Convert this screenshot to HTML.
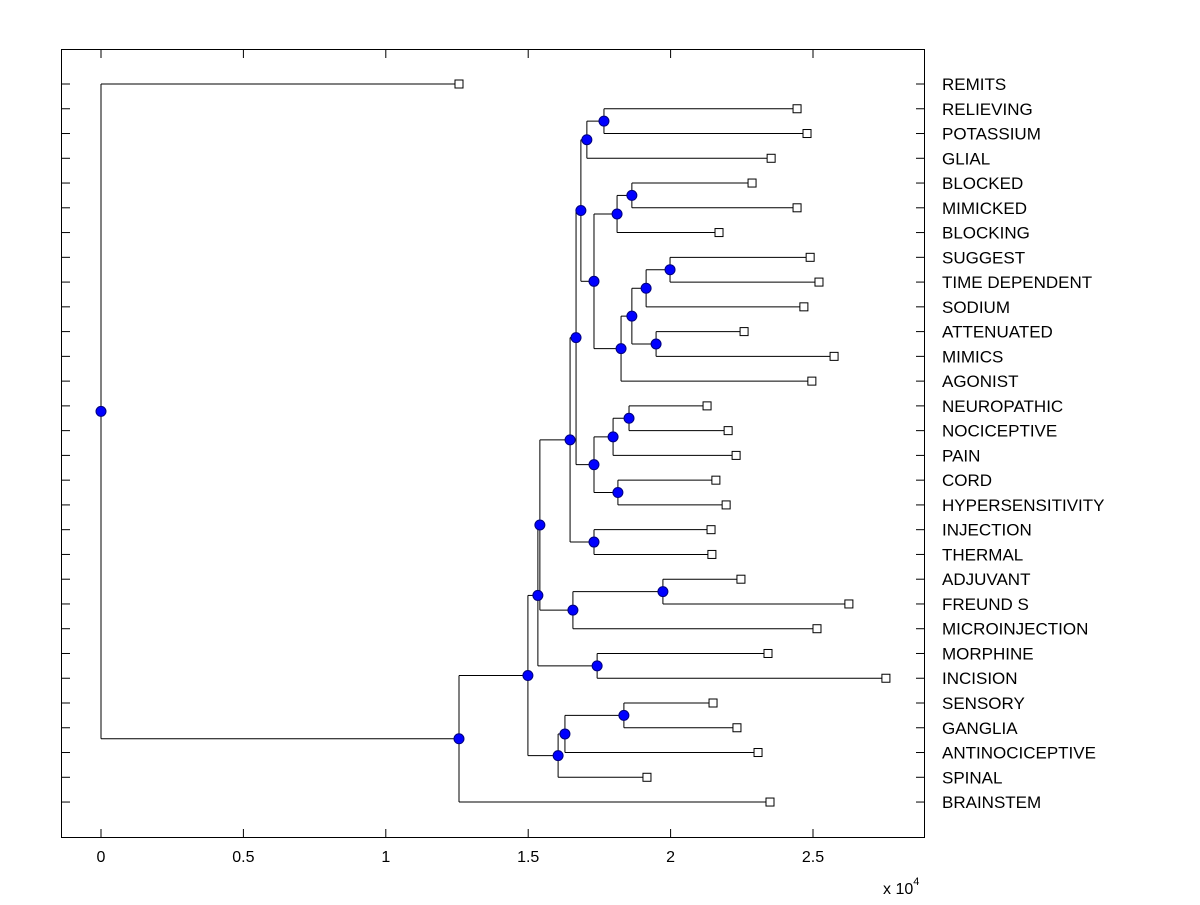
<!DOCTYPE html>
<html><head><meta charset="utf-8"><style>
html,body{margin:0;padding:0;background:#fff;}
svg text{font-family:"Liberation Sans",Arial,sans-serif;}
</style></head><body>
<svg id="chart" width="1200" height="900" xmlns="http://www.w3.org/2000/svg">
<rect x="0" y="0" width="1200" height="900" fill="#fff"/>
<g id="marks"></g>
<rect x="61.5" y="49.5" width="863" height="788" fill="none" stroke="#000" stroke-width="1"/>
<g id="axes"></g>
<text x="883" y="894" font-size="16">x 10<tspan dy="-9" font-size="11">4</tspan></text>
</svg>
<script>
const leaves = ["REMITS","RELIEVING","POTASSIUM","GLIAL","BLOCKED","MIMICKED","BLOCKING","SUGGEST","TIME DEPENDENT","SODIUM","ATTENUATED","MIMICS","AGONIST","NEUROPATHIC","NOCICEPTIVE","PAIN","CORD","HYPERSENSITIVITY","INJECTION","THERMAL","ADJUVANT","FREUND S","MICROINJECTION","MORPHINE","INCISION","SENSORY","GANGLIA","ANTINOCICEPTIVE","SPINAL","BRAINSTEM"];
const leafDist = [1.257,2.444,2.479,2.353,2.286,2.444,2.170,2.490,2.521,2.468,2.258,2.574,2.496,2.128,2.202,2.230,2.159,2.195,2.142,2.145,2.247,2.626,2.514,2.342,2.756,2.149,2.233,2.307,1.917,2.349];
const mergeA = [1,30,4,32,7,34,10,35,37,33,31,13,41,16,42,40,18,45,20,48,47,23,50,25,53,54,52,56,0];
const mergeB = [2,3,5,6,8,9,11,36,12,38,39,14,15,17,43,44,19,46,21,22,49,24,51,26,27,28,55,29,57];
const mergeH = [1.766,1.706,1.864,1.812,1.998,1.914,1.949,1.864,1.826,1.731,1.685,1.854,1.798,1.815,1.731,1.668,1.731,1.647,1.973,1.657,1.541,1.742,1.534,1.836,1.629,1.605,1.499,1.257,0];
const xTicks = [0,0.5,1,1.5,2,2.5];
const xTickLabels = ["0","0.5","1","1.5","2","2.5"];

const X0=101, XS=284.8, Y0=84, YS=24.76, L=61, R=925, T=49, B=838;
const xs = v => X0 + v*XS;
const ys = i => Y0 + i*YS;
const NS="http://www.w3.org/2000/svg";
const marks=document.getElementById('marks'), axes=document.getElementById('axes');
function mk(tag, attrs, parent){const e=document.createElementNS(NS,tag);for(const k in attrs)e.setAttribute(k,attrs[k]);parent.appendChild(e);return e;}

const n=leaves.length;
const px=[], py=[];
for(let i=0;i<n;i++){px.push(leafDist[i]);py.push(i);}
for(let m=0;m<mergeH.length;m++){px.push(mergeH[m]);py.push((py[mergeA[m]]+py[mergeB[m]])/2);}

for(let m=0;m<mergeH.length;m++){
  const a=mergeA[m], b=mergeB[m], h=mergeH[m];
  const x=xs(h);
  const v=mk('line',{x1:x,x2:x,y1:ys(py[a]),y2:ys(py[b]),stroke:'#000','stroke-width':1},marks);
  
  
  [a,b].forEach(c=>{
    const hl=mk('line',{x1:x,x2:xs(px[c]),y1:ys(py[c]),y2:ys(py[c]),stroke:'#000','stroke-width':1},marks);
    
    
  });
}
for(let i=0;i<n;i++){
  const s=mk('rect',{x:xs(leafDist[i])-4,y:ys(i)-4,width:8,height:8,fill:'#fff',stroke:'#000','stroke-width':1},marks);
  
  
}
for(let m=0;m<mergeH.length;m++){
  const c=mk('circle',{cx:xs(mergeH[m]),cy:ys(py[n+m]),r:5,fill:'#0000ff',stroke:'#00007f','stroke-width':1},marks);
  
  
}
for(let i=0;i<n;i++){
  const y=ys(i);
  const t1=mk('line',{x1:L,x2:L+9,y1:y,y2:y,stroke:'#000'},axes);
  
  
  const t2=mk('line',{x1:R-9,x2:R,y1:y,y2:y,stroke:'#000'},axes);
  
  
  const tx=mk('text',{x:942,y:y+6,'font-size':17},axes);
  tx.textContent=leaves[i];
  
  
}
xTicks.forEach((v,i)=>{
  const x=xs(v);
  const a=mk('line',{x1:x,x2:x,y1:B-9,y2:B,stroke:'#000'},axes);
  
  
  const b=mk('line',{x1:x,x2:x,y1:T,y2:T+9,stroke:'#000'},axes);
  
  
  const t=mk('text',{x:x,y:862,'font-size':16,'text-anchor':'middle'},axes);
  t.textContent=xTickLabels[i];
  
  
});
</script>
</body></html>
